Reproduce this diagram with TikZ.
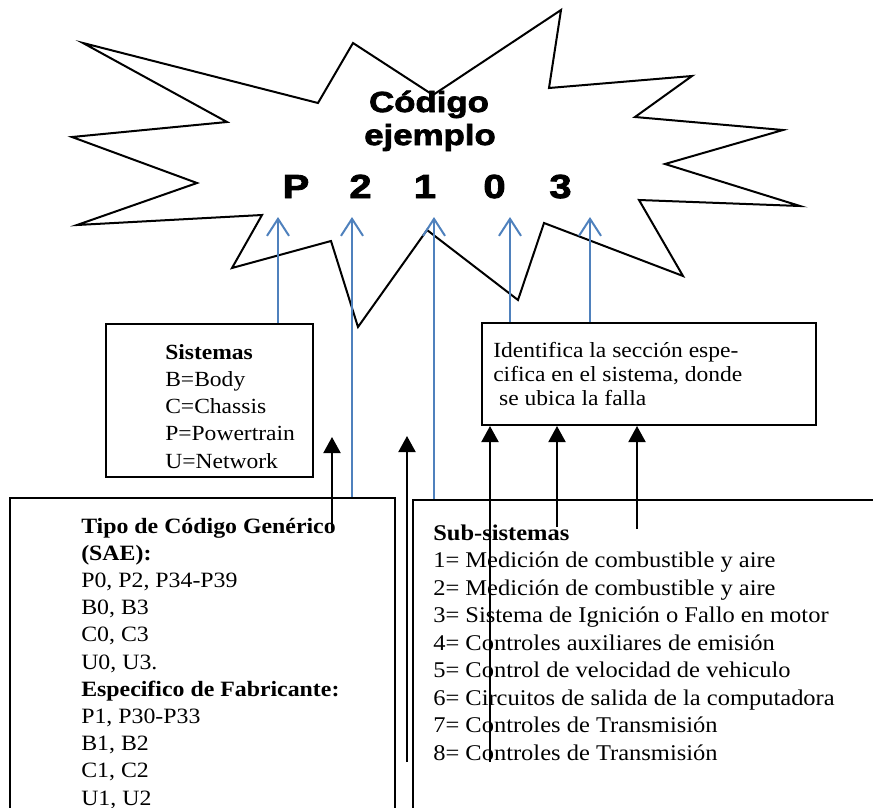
\documentclass[tikz,border=0pt]{standalone}
\usepackage{fontspec}
\setmainfont{Liberation Serif}[FakeStretch=1.09]
\newfontfamily\arialfont{Liberation Sans}[FakeStretch=1.2,FakeBold=2.5]
\usetikzlibrary{arrows.meta}

\tikzset{
  boxst/.style={draw, line width=1.5, inner sep=0pt},
  txt/.style={anchor=base west, inner sep=0pt, align=left, font=\fontsize{16.2}{20.4}\selectfont},
  codetxt/.style={anchor=base, inner sep=0pt, font=\arialfont\bfseries\fontsize{21.75}{26}\selectfont},
  digit/.style={anchor=base, inner sep=0pt, font=\arialfont\bfseries\fontsize{25}{30}\selectfont},
  bluearr/.style={color={rgb, 255:red, 79; green, 129; blue, 189}, line width=1.5, -{Straight Barb[length=12.75pt,width=16.5pt]}},
  blackarr/.style={line width=1.5, -{Triangle[length=12pt,width=12.75pt]}},
}

\begin{document}
\begin{tikzpicture}[x=0.75pt,y=0.75pt,yscale=-1,xscale=1]
\useasboundingbox (0,0) rectangle (873,807);

%Shape: Explosion
\draw [line width=1.5] (83,43) -- (318,103) -- (353,43) -- (433,95) -- (561,10) -- (549,88) -- (692,76) -- (635,117) -- (783,130) -- (665,164) -- (800,206) -- (639,200) -- (683,276) -- (544,223) -- (518,300) -- (427,230) -- (358,327) -- (331,241) -- (232,268) -- (262,215) -- (77,225) -- (197,183) -- (72,137) -- (227,122) -- cycle ;

% Text Node
\node (cod) [codetxt] at (429,112) {Código};
\node (ejm) [codetxt] at (430,145) {ejemplo};
\node (cP) [digit] at (296,198) {P};
\node (c2) [digit] at (360.5,198) {2};
\node (c1) [digit] at (425,198) {1};
\node (c0) [digit] at (494.5,198) {0};
\node (c3) [digit] at (560.5,198) {3};

%Shape: Rectangle
\node (sis) [boxst, minimum width=155.25pt, minimum height=114.75pt] at (209.5,400.5) {};
\node (idf) [boxst, minimum width=250.5pt, minimum height=76.5pt] at (649,374) {};
\node (tipo) [boxst, minimum width=288.75pt, minimum height=256.5pt] at (202.5,669) {};
\node (sub) [boxst, minimum width=365.25pt, minimum height=255pt] at (656.5,670) {};

% Text Node (anchored on the last line)
\node (sistxt) [txt] at (165,468) {\textbf{Sistemas}\\B=Body\\C=Chassis\\P=Powertrain\\U=Network};
% Text Node
\node (idftxt) [txt, font=\fontsize{16.2}{18}\selectfont] at (493,405) {Identifica la sección espe-\\cifica en el sistema, donde\\\ se ubica la falla};
% Text Node
\node (tipotxt) [txt, font=\fontsize{16.4}{20.4}\selectfont] at (81,805) {\textbf{Tipo de Código Genérico}\\\textbf{(SAE):}\\P0, P2, P34-P39\\B0, B3\\C0, C3\\U0, U3.\\\textbf{Especifico de Fabricante:}\\P1, P30-P33\\B1, B2\\C1, C2\\U1, U2};
% Text Node
\node (subtxt) [txt, font=\fontsize{16.85}{20.6}\selectfont] at (433,760) {\textbf{Sub-sistemas}\\1= Medición de combustible y aire\\2= Medición de combustible y aire\\3= Sistema de Ignición o Fallo en motor\\4= Controles auxiliares de emisión\\5= Control de velocidad de vehiculo\\6= Circuitos de salida de la computadora\\7= Controles de Transmisión\\8= Controles de Transmisión};

% arrow tips under the code
\coordinate (aP) at (278,217);
\coordinate (a2) at (352,217);
\coordinate (a1) at (434,217);
\coordinate (a0) at (510,217);
\coordinate (a3) at (590,217);

%Straight Lines (blue)
\draw [bluearr] (sis.north -| aP) -- (aP);
\draw [bluearr] (tipo.north -| a2) -- (a2);
\draw [bluearr] (sub.north -| a1) -- (a1);
\draw [bluearr] (idf.north -| a0) -- (a0);
\draw [bluearr] (idf.north -| a3) -- (a3);

% black arrows
\coordinate (t1) at (332,530);
\coordinate (h1) at (332,437);
\coordinate (t2) at (407,762);
\coordinate (h2) at (407,436);
\coordinate (t3) at (490,762);
\coordinate (t4) at (557,527);
\coordinate (t5) at (637,529);
\draw [blackarr] (t1) -- (h1);
\draw [blackarr] (t2) -- (h2);
\draw [blackarr] (t3) -- (t3 |- idf.south);
\draw [blackarr] (t4) -- (t4 |- idf.south);
\draw [blackarr] (t5) -- (t5 |- idf.south);

\end{tikzpicture}
\end{document}
